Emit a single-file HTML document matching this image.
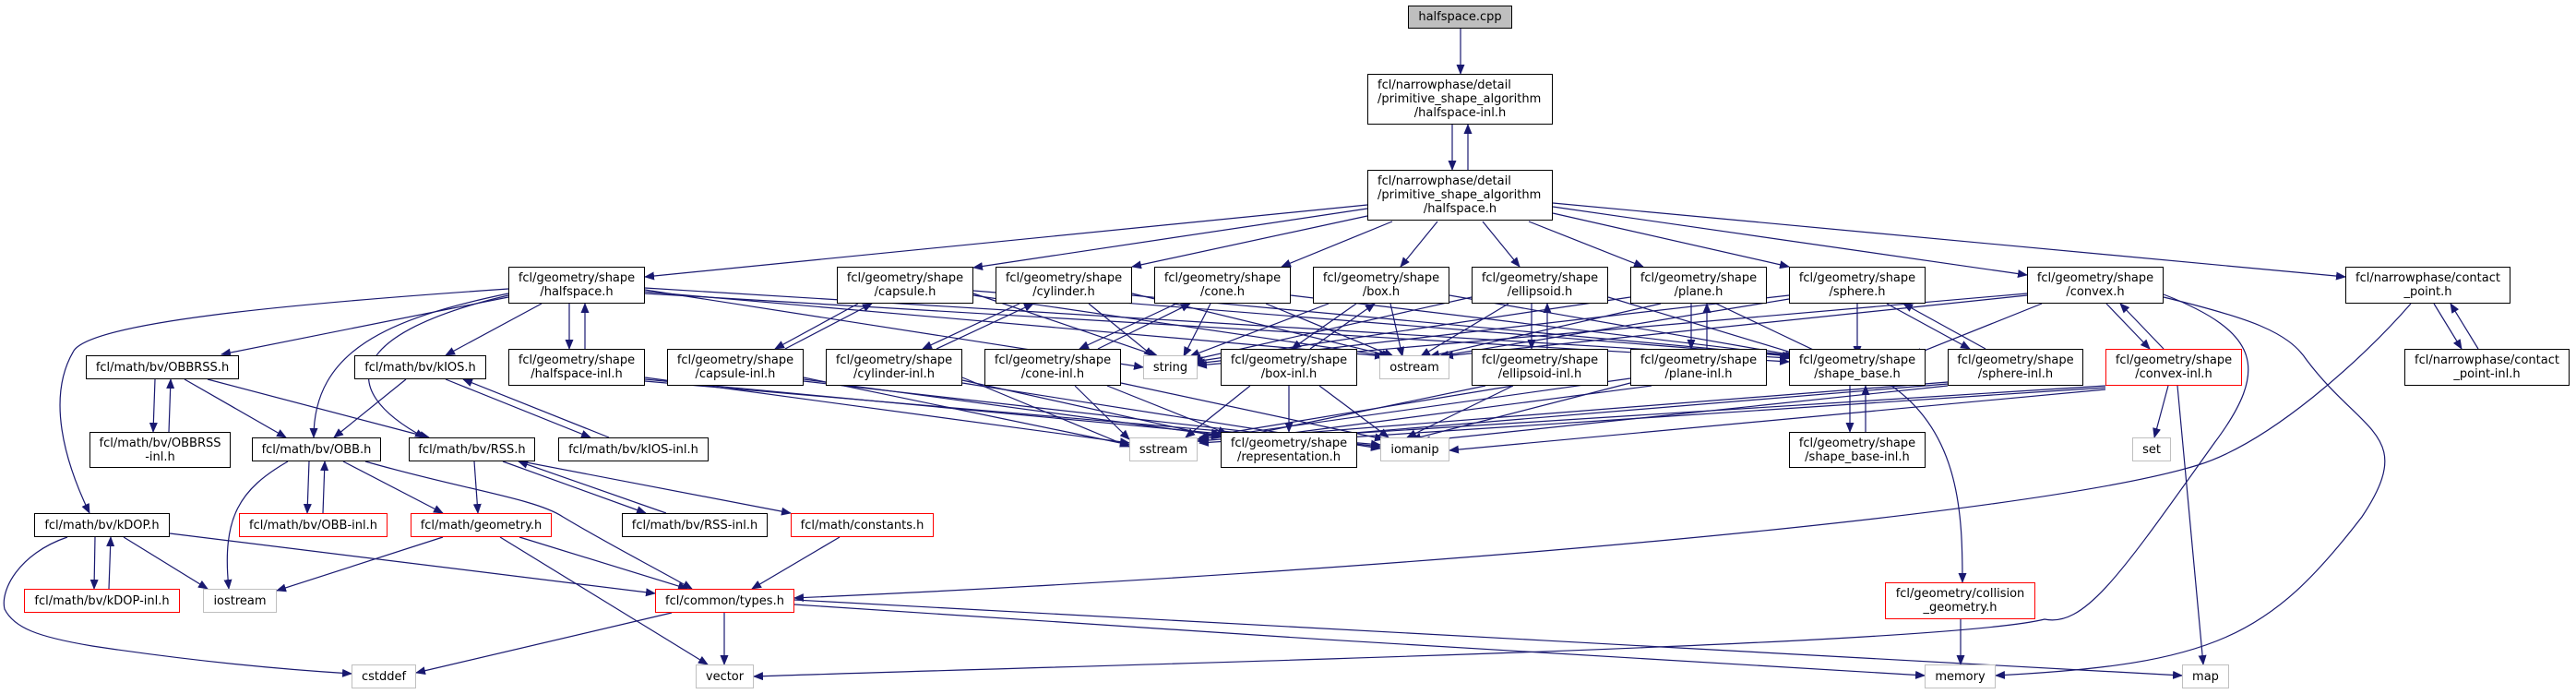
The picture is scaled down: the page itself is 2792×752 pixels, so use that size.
<!DOCTYPE html>
<html><head><meta charset="utf-8"><style>
body{margin:0;background:#fff;width:2792px;height:752px;overflow:hidden;position:relative;font-family:"DejaVu Sans","Liberation Sans",sans-serif;}
.n{position:absolute;box-sizing:border-box;border:1.5px solid #000;background:#fff;font-size:13px;line-height:15px;color:#000;display:flex;align-items:center;justify-content:center;text-align:center;white-space:pre;}
.m{display:block;padding-top:4px;white-space:normal}
.m .a{text-align:left;padding-left:10px;white-space:nowrap}
.m .b{text-align:center;white-space:nowrap}
.g{border-color:#bfbfbf}
.r{border-color:#ff0000}
svg{position:absolute;left:0;top:0}
</style></head><body>
<svg width="2792" height="752" viewBox="0 0 2792 752">
<defs><marker id="a" markerUnits="userSpaceOnUse" markerWidth="11" markerHeight="9" refX="10" refY="4.5" orient="auto"><path d="M0,0L11,4.5L0,9z" fill="#191970"/></marker></defs>
<g stroke="#191970" stroke-width="1.2" fill="none" marker-end="url(#a)">
<path d="M1583,31L1583,80"/>
<path d="M1574,135L1574,184"/><path d="M1591,184L1591,135"/>
<path d="M1482,222L699,300"/><path d="M1482,226L1055,290"/><path d="M1482,234L1227,289"/>
<path d="M1509,240L1389,289"/><path d="M1558,240L1518,289"/><path d="M1607,240L1647,289"/>
<path d="M1657,240L1781,289"/><path d="M1683,231L1939,289"/><path d="M1683,224L2197,298"/><path d="M1683,220L2542,300"/>
<path d="M551,322L240,384"/><path d="M587,329L483,385"/>
<path d="M551,318C420,345 340,380 340,474"/><path d="M551,320C380,360 360,420 460,474"/>
<path d="M551,313C300,330 100,350 80,380C50,430 70,500 97,556"/>
<path d="M617,329L617,378"/><path d="M634,378L634,329"/>
<path d="M699,314L1239,398"/><path d="M699,316L1500,386"/><path d="M699,312L1939,388"/><path d="M699,318L1939,392"/>
<path d="M699,409L1224,480"/><path d="M699,411L1323,470"/><path d="M699,413L1496,482"/>
<path d="M930,329L840,378"/><path d="M851,378L945,329"/>
<path d="M1055,318L1255,386"/><path d="M1055,320L1505,386"/><path d="M1055,315L1942,386"/>
<path d="M871,409L1224,482"/><path d="M871,411L1323,472"/><path d="M871,413L1496,484"/>
<path d="M1105,329L1000,378"/><path d="M1015,378L1120,329"/>
<path d="M1180,329L1250,386"/><path d="M1227,318L1508,386"/><path d="M1227,320L1945,386"/>
<path d="M1043,409L1224,484"/><path d="M1043,412L1323,474"/><path d="M1043,415L1496,486"/>
<path d="M1275,329L1170,378"/><path d="M1190,378L1290,329"/>
<path d="M1312,329L1283,386"/><path d="M1372,329L1510,386"/><path d="M1399,320L1948,386"/>
<path d="M1165,418L1224,476"/><path d="M1200,418L1330,470"/><path d="M1215,415L1500,476"/>
<path d="M1470,329L1400,378"/><path d="M1420,378L1490,329"/>
<path d="M1440,329L1290,386"/><path d="M1507,329L1520,386"/><path d="M1571,320L1950,386"/>
<path d="M1355,418L1285,474"/><path d="M1397,418L1397,468"/><path d="M1430,418L1505,474"/>
<path d="M1660,329L1660,378"/><path d="M1677,378L1677,329"/>
<path d="M1595,322L1292,390"/><path d="M1635,329L1540,386"/><path d="M1743,322L1955,386"/>
<path d="M1640,418L1300,474"/><path d="M1610,418L1330,476"/><path d="M1640,418L1525,474"/>
<path d="M1833,329L1833,378"/><path d="M1850,378L1850,329"/>
<path d="M1767,322L1294,392"/><path d="M1800,329L1550,386"/><path d="M1860,329L1980,386"/>
<path d="M1767,410L1298,476"/><path d="M1790,418L1332,478"/><path d="M1767,415L1530,476"/>
<path d="M2013,329L2013,385"/><path d="M2045,329L2135,378"/><path d="M2152,378L2063,329"/>
<path d="M1939,320L1296,394"/><path d="M1939,324L1560,386"/>
<path d="M2111,414L1298,478"/><path d="M2111,416L1335,480"/><path d="M2111,418L1540,478"/>
<path d="M2213,329L2073,385"/><path d="M2283,329L2330,378"/><path d="M2345,378L2298,329"/>
<path d="M2197,318L1298,396"/><path d="M2197,320L1565,386"/>
<path d="M2345,319C2450,360 2460,400 2400,480C2300,620 2260,680 2216,671C2100,700 1200,720 817,733"/>
<path d="M2345,322C2440,345 2480,360 2500,390C2560,470 2620,470 2560,560C2460,690 2400,720 2163,732"/>
<path d="M2282,418L1300,480"/><path d="M2282,420L1338,482"/><path d="M2282,422L1571,488"/>
<path d="M2350,418L2335,474"/><path d="M2360,418L2388,720"/>
<path d="M2638,329L2668,378"/><path d="M2686,378L2656,329"/>
<path d="M2613,329C2560,390 2460,480 2382,504C2200,560 1500,620 861,648"/>
<path d="M2005,418L2005,468"/><path d="M2022,468L2022,418"/>
<path d="M2050,418C2125,470 2127,560 2127,631"/>
<path d="M2125,671L2125,720"/>
<path d="M168,411L166,468"/><path d="M183,468L185,411"/>
<path d="M200,411L310,474"/><path d="M225,411L465,474"/>
<path d="M440,411L362,474"/><path d="M483,411L640,474"/><path d="M660,474L502,411"/>
<path d="M312,500C260,530 240,560 248,638"/>
<path d="M335,500L333,556"/><path d="M350,556L352,500"/>
<path d="M372,500L480,556"/><path d="M396,500C500,530 580,540 610,560C660,590 700,610 750,638"/>
<path d="M514,500L518,556"/><path d="M545,500L700,556"/><path d="M722,556L562,500"/>
<path d="M565,500L857,556"/>
<path d="M103,582L102,638"/><path d="M118,638L120,582"/>
<path d="M134,582L225,638"/><path d="M184,578L710,643"/>
<path d="M73,582C20,600 0,640 5,660C15,680 40,690 100,700C200,715 300,725 381,730"/>
<path d="M480,582L300,640"/><path d="M563,582L745,638"/><path d="M542,582L767,720"/>
<path d="M910,582L815,638"/>
<path d="M728,664L451,729"/><path d="M785,664L785,720"/>
<path d="M861,655C1200,680 1800,715 2086,732"/><path d="M861,650C1300,675 1900,705 2365,732"/>
</g></svg>
<div class="n" style="left:1526px;top:6px;width:113px;height:25px;background:#bfbfbf;">halfspace.cpp</div>
<div class="n m" style="left:1482px;top:80px;width:201px;height:55px;"><div class="a">fcl/narrowphase/detail</div><div class="a">/primitive_shape_algorithm</div><div class="b">/halfspace-inl.h</div></div>
<div class="n m" style="left:1482px;top:184px;width:201px;height:55px;"><div class="a">fcl/narrowphase/detail</div><div class="a">/primitive_shape_algorithm</div><div class="b">/halfspace.h</div></div>

<div class="n" style="left:551px;top:289px;width:148px;height:40px;">fcl/geometry/shape
/halfspace.h</div>
<div class="n" style="left:907px;top:289px;width:148px;height:40px;">fcl/geometry/shape
/capsule.h</div>
<div class="n" style="left:1079px;top:289px;width:148px;height:40px;">fcl/geometry/shape
/cylinder.h</div>
<div class="n" style="left:1251px;top:289px;width:148px;height:40px;">fcl/geometry/shape
/cone.h</div>
<div class="n" style="left:1423px;top:289px;width:148px;height:40px;">fcl/geometry/shape
/box.h</div>
<div class="n" style="left:1595px;top:289px;width:148px;height:40px;">fcl/geometry/shape
/ellipsoid.h</div>
<div class="n" style="left:1767px;top:289px;width:148px;height:40px;">fcl/geometry/shape
/plane.h</div>
<div class="n" style="left:1939px;top:289px;width:148px;height:40px;">fcl/geometry/shape
/sphere.h</div>
<div class="n" style="left:2197px;top:289px;width:148px;height:40px;">fcl/geometry/shape
/convex.h</div>
<div class="n" style="left:2542px;top:289px;width:179px;height:40px;">fcl/narrowphase/contact
_point.h</div>

<div class="n" style="left:93px;top:385px;width:166px;height:26px;">fcl/math/bv/OBBRSS.h</div>
<div class="n" style="left:384px;top:385px;width:143px;height:26px;">fcl/math/bv/kIOS.h</div>
<div class="n" style="left:551px;top:378px;width:148px;height:40px;">fcl/geometry/shape
/halfspace-inl.h</div>
<div class="n" style="left:723px;top:378px;width:148px;height:40px;">fcl/geometry/shape
/capsule-inl.h</div>
<div class="n" style="left:895px;top:378px;width:148px;height:40px;">fcl/geometry/shape
/cylinder-inl.h</div>
<div class="n" style="left:1067px;top:378px;width:148px;height:40px;">fcl/geometry/shape
/cone-inl.h</div>
<div class="n g" style="left:1239px;top:385px;width:59px;height:26px;">string</div>
<div class="n" style="left:1323px;top:378px;width:148px;height:40px;">fcl/geometry/shape
/box-inl.h</div>
<div class="n g" style="left:1495px;top:385px;width:76px;height:26px;">ostream</div>
<div class="n" style="left:1595px;top:378px;width:148px;height:40px;">fcl/geometry/shape
/ellipsoid-inl.h</div>
<div class="n" style="left:1767px;top:378px;width:148px;height:40px;">fcl/geometry/shape
/plane-inl.h</div>
<div class="n" style="left:1939px;top:378px;width:148px;height:40px;">fcl/geometry/shape
/shape_base.h</div>
<div class="n" style="left:2111px;top:378px;width:147px;height:40px;">fcl/geometry/shape
/sphere-inl.h</div>
<div class="n r" style="left:2282px;top:378px;width:148px;height:40px;">fcl/geometry/shape
/convex-inl.h</div>
<div class="n" style="left:2606px;top:378px;width:179px;height:40px;">fcl/narrowphase/contact
_point-inl.h</div>

<div class="n" style="left:97px;top:468px;width:153px;height:39px;">fcl/math/bv/OBBRSS
-inl.h</div>
<div class="n" style="left:273px;top:474px;width:140px;height:26px;">fcl/math/bv/OBB.h</div>
<div class="n" style="left:443px;top:474px;width:137px;height:26px;">fcl/math/bv/RSS.h</div>
<div class="n" style="left:605px;top:474px;width:163px;height:26px;">fcl/math/bv/kIOS-inl.h</div>
<div class="n g" style="left:1224px;top:474px;width:74px;height:26px;">sstream</div>
<div class="n" style="left:1323px;top:468px;width:148px;height:39px;">fcl/geometry/shape
/representation.h</div>
<div class="n g" style="left:1496px;top:474px;width:75px;height:26px;">iomanip</div>
<div class="n" style="left:1939px;top:468px;width:148px;height:39px;">fcl/geometry/shape
/shape_base-inl.h</div>
<div class="n g" style="left:2311px;top:474px;width:42px;height:26px;">set</div>

<div class="n" style="left:37px;top:556px;width:147px;height:26px;">fcl/math/bv/kDOP.h</div>
<div class="n r" style="left:259px;top:556px;width:161px;height:26px;">fcl/math/bv/OBB-inl.h</div>
<div class="n r" style="left:445px;top:556px;width:153px;height:26px;">fcl/math/geometry.h</div>
<div class="n" style="left:674px;top:556px;width:158px;height:26px;">fcl/math/bv/RSS-inl.h</div>
<div class="n r" style="left:857px;top:556px;width:155px;height:26px;">fcl/math/constants.h</div>
<div class="n r" style="left:2043px;top:631px;width:163px;height:40px;">fcl/geometry/collision
_geometry.h</div>

<div class="n r" style="left:26px;top:638px;width:169px;height:26px;">fcl/math/bv/kDOP-inl.h</div>
<div class="n g" style="left:220px;top:638px;width:80px;height:26px;">iostream</div>
<div class="n r" style="left:710px;top:638px;width:151px;height:26px;">fcl/common/types.h</div>

<div class="n g" style="left:381px;top:720px;width:70px;height:26px;">cstddef</div>
<div class="n g" style="left:754px;top:720px;width:63px;height:26px;">vector</div>
<div class="n g" style="left:2086px;top:720px;width:77px;height:26px;">memory</div>
<div class="n g" style="left:2365px;top:720px;width:51px;height:26px;">map</div>
</body></html>
